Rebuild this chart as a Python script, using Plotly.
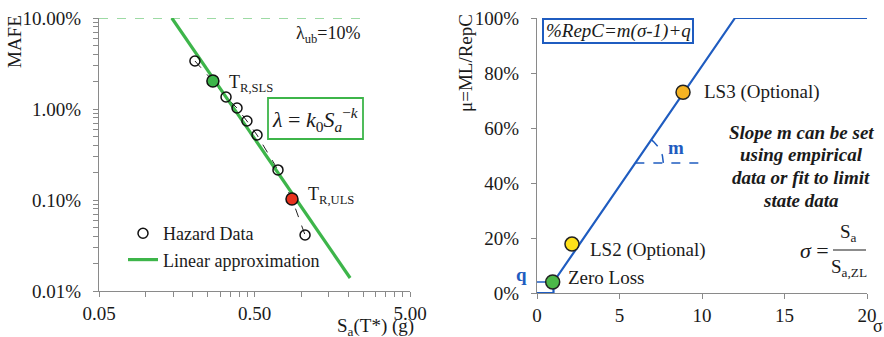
import numpy as np
import plotly.graph_objects as go

W, H = 884, 337
FONT = "Liberation Serif, Times New Roman, serif"
BLUE = "#1F5CC0"
GREEN = "#3DB54A"
TXT = "#1a1a1a"
AX = "#8a8a8a"

# ---------------- data: left (hazard) ----------------
hazard_sa = [0.207, 0.270, 0.328, 0.386, 0.447, 0.519, 0.708, 0.871, 1.057]
hazard_mafe = [0.0337, 0.0203, 0.01355, 0.01025, 0.00738, 0.00518, 0.00214, 0.001026, 0.000412]
sls_idx = 1
uls_idx = 7
lin_sa = [0.147, 2.06]
lin_mafe = [0.1, 0.000139]
ub_sa = [0.05, 2.65]
ub_mafe = [0.1, 0.1]
left_xticks = [0.05, 0.5, 5]
left_xtext = ["0.05", "0.50", "5.00"]
left_yticks = [1e-4, 1e-3, 1e-2, 1e-1]
left_ytext = ["0.01%", "0.10%", "1.00%", "10.00%"]

# ---------------- data: right (loss) ----------------
loss_sigma = [0, 1, 1, 12, 20]
loss_frac = [0, 0, 0.04, 1, 1]
zl_pt = (0.95, 0.04)
ls2_pt = (2.12, 0.178)
ls3_pt = (8.85, 0.73)
q_val = 0.04
m_anchor = (5.96, 0.473)
m_end_x = 10.0
right_xticks = [0, 5, 10, 15, 20]
right_yticks = [0, 0.2, 0.4, 0.6, 0.8, 1.0]


def px(x):
    return x / W


def py(y):
    return 1 - y / H


fig = go.Figure()

# left plot
fig.add_trace(go.Scatter(x=ub_sa, y=ub_mafe, mode="lines", xaxis="x", yaxis="y",
                         line=dict(color=GREEN, width=1.2, dash="dash"), showlegend=False,
                         cliponaxis=False, hoverinfo="skip"))
fig.add_trace(go.Scatter(x=hazard_sa, y=hazard_mafe, mode="lines", xaxis="x", yaxis="y",
                         line=dict(color="#222", width=1, dash="dash"), showlegend=False,
                         hoverinfo="skip"))
fig.add_trace(go.Scatter(x=lin_sa, y=lin_mafe, mode="lines", xaxis="x", yaxis="y",
                         line=dict(color=GREEN, width=3.2), name="Linear approximation",
                         legendgroup="b", legendrank=2))
fig.add_trace(go.Scatter(x=hazard_sa, y=hazard_mafe, mode="markers", xaxis="x", yaxis="y",
                         marker=dict(symbol="circle-open", size=10, color="#111",
                                     line=dict(width=1.5, color="#111")),
                         name="Hazard Data", legendgroup="a", legendrank=1))
fig.add_trace(go.Scatter(x=[hazard_sa[sls_idx]], y=[hazard_mafe[sls_idx]], mode="markers",
                         xaxis="x", yaxis="y", showlegend=False,
                         marker=dict(size=12, color=GREEN, line=dict(width=1.5, color="#111"))))
fig.add_trace(go.Scatter(x=[hazard_sa[uls_idx]], y=[hazard_mafe[uls_idx]], mode="markers",
                         xaxis="x", yaxis="y", showlegend=False,
                         marker=dict(size=12, color="#E8321E", line=dict(width=1.5, color="#111"))))

# right plot
fig.add_trace(go.Scatter(x=[0, zl_pt[0]], y=[q_val, q_val], mode="lines", xaxis="x2", yaxis="y2",
                         line=dict(color=BLUE, width=1.5, dash="dash"), showlegend=False,
                         cliponaxis=False))
fig.add_trace(go.Scatter(x=[m_anchor[0], m_end_x], y=[m_anchor[1], m_anchor[1]], mode="lines",
                         xaxis="x2", yaxis="y2",
                         line=dict(color=BLUE, width=1.5, dash="dash"), showlegend=False))
# angle arc (decoration)
ppx = (867 - 537) / 20.0
ppy = (293 - 18) / 1.0
slope_px = (1 - q_val) / (12 - 1) * ppy / ppx
ang = np.linspace(0, np.arctan(slope_px), 20)
r = 28
fig.add_trace(go.Scatter(x=m_anchor[0] + r * np.cos(ang) / ppx,
                         y=m_anchor[1] + r * np.sin(ang) / ppy, mode="lines",
                         xaxis="x2", yaxis="y2",
                         line=dict(color=BLUE, width=1.5, dash="dash"), showlegend=False))
fig.add_trace(go.Scatter(x=loss_sigma, y=loss_frac, mode="lines", xaxis="x2", yaxis="y2",
                         line=dict(color=BLUE, width=2.2), showlegend=False, cliponaxis=False))
for pt, col in [(zl_pt, "#4CB848"), (ls2_pt, "#FFE11A"), (ls3_pt, "#F5B323")]:
    fig.add_trace(go.Scatter(x=[pt[0]], y=[pt[1]], mode="markers", xaxis="x2", yaxis="y2",
                             showlegend=False, cliponaxis=False,
                             marker=dict(size=14, color=col, line=dict(width=1.5, color="#222"))))

axis_common = dict(showline=True, linecolor=AX, linewidth=1.2, ticks="outside", ticklen=5,
                   tickcolor=AX, tickwidth=1.2, showgrid=False, zeroline=False, automargin=False,
                   tickfont=dict(family=FONT, size=19, color=TXT))

minor_x = [0.05 * k for k in range(2, 10)] + [0.5 * k for k in range(2, 10)]
minor_y = [k * 10.0 ** e for e in range(-4, -1) for k in range(2, 10)]

fig.update_layout(
    width=W, height=H, margin=dict(l=0, r=0, t=0, b=0, autoexpand=False),
    paper_bgcolor="white", plot_bgcolor="white",
    font=dict(family=FONT, size=18, color=TXT),
    xaxis=dict(axis_common, type="log", domain=[px(99), px(410)],
               range=[np.log10(0.05), np.log10(5)], tickvals=left_xticks, ticktext=left_xtext,
               minor=dict(tickvals=minor_x, ticks="outside", ticklen=5, tickcolor=AX, tickwidth=1.2),
               anchor="y"),
    yaxis=dict(axis_common, type="log", domain=[py(291), py(18)], range=[-4, -1],
               tickvals=left_yticks, ticktext=left_ytext, ticklabelstandoff=8,
               minor=dict(tickvals=minor_y, ticks="outside", ticklen=5, tickcolor=AX, tickwidth=1.2),
               anchor="x"),
    xaxis2=dict(axis_common, domain=[px(537), px(867)], range=[0, 20], tickvals=right_xticks,
                anchor="y2", layer="below traces"),
    yaxis2=dict(axis_common, domain=[py(293), py(18)], range=[0, 1], tickvals=right_yticks,
                tickformat=".0%", anchor="x2", layer="below traces", ticklabelstandoff=8),
    legend=dict(x=px(123), y=py(215), xanchor="left", yanchor="top", bgcolor="rgba(0,0,0,0)",
                font=dict(family=FONT, size=18, color=TXT), traceorder="grouped",
                tracegroupgap=0),
)

ann = []


def A(text, x, y, size=19, xanchor="center", yanchor="middle", color=TXT, angle=0, **kw):
    ann.append(dict(text=text, x=px(x), y=py(y), xref="paper", yref="paper", showarrow=False,
                    xanchor=xanchor, yanchor=yanchor, textangle=angle,
                    font=dict(family=FONT, size=size, color=color), **kw))


# left texts
A("MAFE", 15, 41, angle=-90)
A("S<sub>a</sub>(T*) (g)", 335, 327, xanchor="left")
A("λ<sub>ub</sub>=10%", 328, 34, size=18)
A("T<sub>R,SLS</sub>", 227, 84, size=18, xanchor="left")
A("T<sub>R,ULS</sub>", 306, 195, size=18, xanchor="left")
A("<i>λ</i> = <i>k</i><sub>0</sub><i>S</i><sub><i>a</i></sub><sup>−<i>k</i></sup>", 315, 119, size=22)

# right texts
A("μ=ML/RepC", 465, 63, angle=-90)
A("σ", 878, 326, size=18)
A("<i>%RepC=m(σ-1)+q</i>", 618, 31, size=19)
A("LS3 (Optional)", 702, 92, xanchor="left")
A("LS2 (Optional)", 588, 250, xanchor="left")
A("Zero Loss", 566, 277, xanchor="left")
A("<b>m</b>", 676, 147, color=BLUE)
A("<b>q</b>", 521, 274, color=BLUE)
for i, line in enumerate(["Slope m can be set", "using empirical", "data or fit to limit",
                          "state data"]):
    A("<b><i>" + line + "</i></b>", 801, 132 + i * 22.7, size=19)
A("<i>σ</i> =", 831, 250, size=22, xanchor="right")
A("S<sub>a</sub>", 848, 233, size=19)
A("S<sub>a,ZL</sub>", 849, 268, size=19)

shapes = [
    dict(type="rect", xref="paper", yref="paper", x0=px(268), x1=px(363), y0=py(139), y1=py(98),
         line=dict(color=GREEN, width=1.8)),
    dict(type="rect", xref="paper", yref="paper", x0=px(543), x1=px(693), y0=py(43), y1=py(19),
         line=dict(color=BLUE, width=2)),
    dict(type="line", xref="paper", yref="paper", x0=px(833), x1=px(866), y0=py(250), y1=py(250),
         line=dict(color=TXT, width=1.2)),
]

fig.update_layout(annotations=ann, shapes=shapes)
fig.write_html("out.html", config={"displayModeBar": False},
               post_script="document.body.style.margin='0';document.body.style.overflow='hidden';")
